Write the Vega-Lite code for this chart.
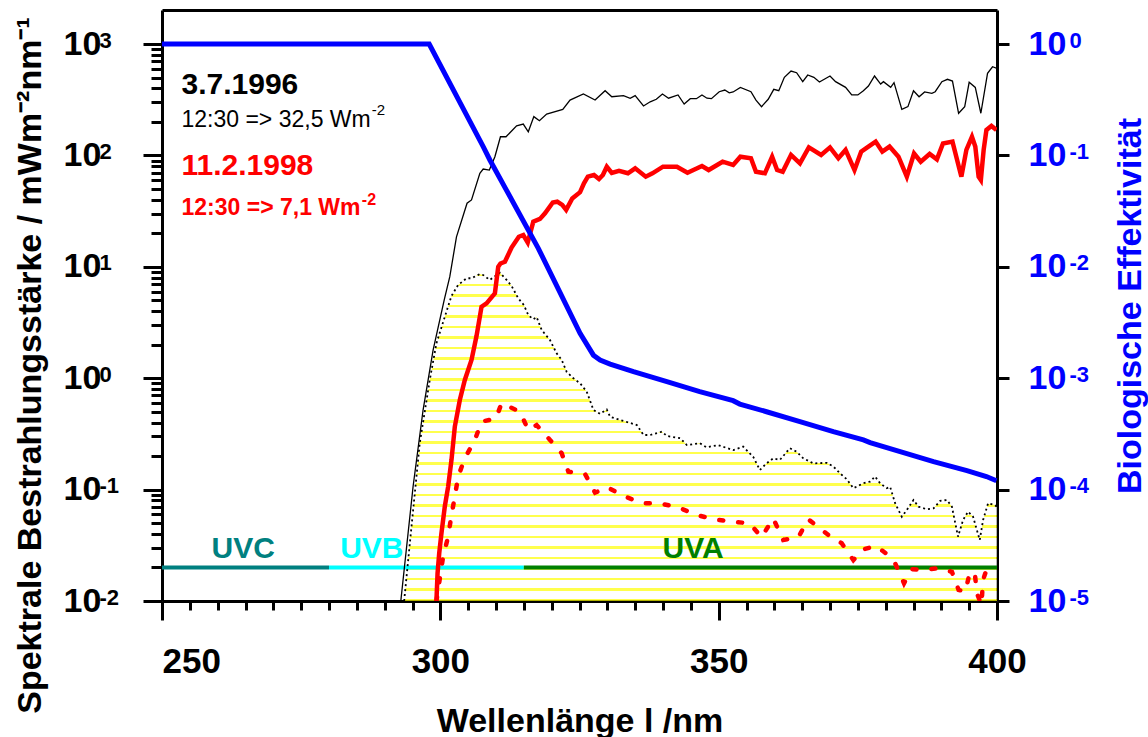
{
  "$schema": "https://vega.github.io/schema/vega-lite/v6.json",
  "width": 835,
  "height": 591,
  "autosize": {"type": "none"},
  "padding": {"left": 162, "top": 10, "right": 151, "bottom": 136},
  "background": "white",
  "config": {
    "font": "Liberation Sans",
    "view": {"stroke": null},
    "axis": {"grid": false, "labelFlush": false, "labelOverlap": false, "labelFont": "Liberation Sans", "titleFont": "Liberation Sans"}
  },
  "resolve": {"scale": {"y": "independent"}, "axis": {"x": "independent", "y": "independent"}},
  "datasets": {
    "black": [
      {"nm": 292.9, "v": 0.01}, {"nm": 295.1, "v": 0.106}, {"nm": 296.9, "v": 0.518}, {"nm": 298.7, "v": 1.79}, {"nm": 300.7, "v": 5.04}, {"nm": 301.7, "v": 8.15}, {"nm": 302.9, "v": 18.6}, {"nm": 304.8, "v": 37.2}, {"nm": 305.6, "v": 39.8}, {"nm": 307.1, "v": 69.1}, {"nm": 307.7, "v": 75.5}, {"nm": 308.8, "v": 73.9}, {"nm": 309.8, "v": 97.3}, {"nm": 310.8, "v": 147}, {"nm": 311.8, "v": 147}, {"nm": 313.7, "v": 184}, {"nm": 314.9, "v": 191}, {"nm": 315.8, "v": 163}, {"nm": 316.8, "v": 223}, {"nm": 317.8, "v": 205}, {"nm": 319.1, "v": 235}, {"nm": 322.0, "v": 259}, {"nm": 323.3, "v": 314}, {"nm": 325.7, "v": 356}, {"nm": 327.8, "v": 314}, {"nm": 329.6, "v": 381}, {"nm": 330.8, "v": 336}, {"nm": 332.9, "v": 344}, {"nm": 334.1, "v": 326}, {"nm": 335.0, "v": 344}, {"nm": 336.5, "v": 278}, {"nm": 337.7, "v": 303}, {"nm": 338.8, "v": 319}, {"nm": 339.9, "v": 356}, {"nm": 341.0, "v": 326}, {"nm": 342.7, "v": 349}, {"nm": 343.8, "v": 289}, {"nm": 344.9, "v": 323}, {"nm": 346.0, "v": 323}, {"nm": 347.0, "v": 349}, {"nm": 347.9, "v": 326}, {"nm": 348.7, "v": 323}, {"nm": 350.1, "v": 373}, {"nm": 351.1, "v": 386}, {"nm": 351.9, "v": 365}, {"nm": 352.6, "v": 371}, {"nm": 353.9, "v": 408}, {"nm": 355.8, "v": 373}, {"nm": 356.7, "v": 314}, {"nm": 357.7, "v": 274}, {"nm": 358.9, "v": 319}, {"nm": 359.9, "v": 392}, {"nm": 360.8, "v": 381}, {"nm": 361.8, "v": 502}, {"nm": 363.0, "v": 572}, {"nm": 364.0, "v": 552}, {"nm": 365.1, "v": 459}, {"nm": 366.0, "v": 527}, {"nm": 367.1, "v": 502}, {"nm": 368.1, "v": 456}, {"nm": 370.0, "v": 516}, {"nm": 371.0, "v": 459}, {"nm": 372.8, "v": 408}, {"nm": 373.9, "v": 349}, {"nm": 375.0, "v": 349}, {"nm": 376.0, "v": 381}, {"nm": 376.9, "v": 420}, {"nm": 378.0, "v": 516}, {"nm": 379.1, "v": 437}, {"nm": 379.6, "v": 459}, {"nm": 380.9, "v": 408}, {"nm": 381.5, "v": 450}, {"nm": 382.9, "v": 259}, {"nm": 384.0, "v": 274}, {"nm": 385.0, "v": 381}, {"nm": 386.0, "v": 336}, {"nm": 387.0, "v": 371}, {"nm": 388.3, "v": 361}, {"nm": 388.9, "v": 373}, {"nm": 390.1, "v": 459}, {"nm": 391.1, "v": 482}, {"nm": 392.0, "v": 465}, {"nm": 393.1, "v": 239}, {"nm": 394.2, "v": 274}, {"nm": 395.0, "v": 453}, {"nm": 396.1, "v": 408}, {"nm": 397.1, "v": 239}, {"nm": 398.3, "v": 546}, {"nm": 399.2, "v": 625}, {"nm": 400.0, "v": 605}
    ],
    "red": [
      {"nm": 299.3, "v": 0.01}, {"nm": 299.5, "v": 0.0177}, {"nm": 299.8, "v": 0.0268}, {"nm": 300.2, "v": 0.0406}, {"nm": 300.8, "v": 0.0703}, {"nm": 301.4, "v": 0.106}, {"nm": 302.0, "v": 0.184}, {"nm": 302.6, "v": 0.367}, {"nm": 303.5, "v": 0.637}, {"nm": 304.4, "v": 0.964}, {"nm": 305.6, "v": 1.46}, {"nm": 306.5, "v": 2.39}, {"nm": 307.4, "v": 4.38}, {"nm": 308.3, "v": 4.7}, {"nm": 309.8, "v": 5.78}, {"nm": 310.4, "v": 10.0}, {"nm": 310.8, "v": 10.7}, {"nm": 311.6, "v": 11.1}, {"nm": 312.8, "v": 14.9}, {"nm": 314.1, "v": 18.6}, {"nm": 314.9, "v": 19.3}, {"nm": 315.7, "v": 16.5}, {"nm": 316.7, "v": 25.4}, {"nm": 317.9, "v": 26.9}, {"nm": 318.8, "v": 30.2}, {"nm": 320.2, "v": 37.8}, {"nm": 321.0, "v": 38.4}, {"nm": 321.9, "v": 35.9}, {"nm": 322.6, "v": 32.4}, {"nm": 323.7, "v": 41.0}, {"nm": 325.1, "v": 46.8}, {"nm": 325.8, "v": 56.2}, {"nm": 326.5, "v": 64.4}, {"nm": 327.6, "v": 66.7}, {"nm": 328.5, "v": 61.4}, {"nm": 329.2, "v": 66.7}, {"nm": 329.9, "v": 79.2}, {"nm": 330.8, "v": 69.5}, {"nm": 332.1, "v": 72.7}, {"nm": 333.7, "v": 69.1}, {"nm": 335.0, "v": 76.6}, {"nm": 336.9, "v": 64.4}, {"nm": 338.1, "v": 69.1}, {"nm": 340.0, "v": 79.2}, {"nm": 342.5, "v": 79.2}, {"nm": 344.4, "v": 69.9}, {"nm": 347.0, "v": 80.3}, {"nm": 348.2, "v": 73.9}, {"nm": 350.7, "v": 87.8}, {"nm": 352.6, "v": 82.0}, {"nm": 353.9, "v": 97.3}, {"nm": 355.8, "v": 94.2}, {"nm": 356.7, "v": 71.4}, {"nm": 358.3, "v": 69.1}, {"nm": 359.6, "v": 97.3}, {"nm": 360.5, "v": 73.9}, {"nm": 361.5, "v": 71.4}, {"nm": 363.0, "v": 101}, {"nm": 364.6, "v": 84.9}, {"nm": 366.2, "v": 118}, {"nm": 368.4, "v": 101}, {"nm": 370.0, "v": 118}, {"nm": 371.5, "v": 94.2}, {"nm": 372.8, "v": 112}, {"nm": 374.4, "v": 73.9}, {"nm": 375.6, "v": 108}, {"nm": 376.9, "v": 120}, {"nm": 378.2, "v": 133}, {"nm": 379.4, "v": 108}, {"nm": 380.7, "v": 120}, {"nm": 382.3, "v": 97.3}, {"nm": 383.8, "v": 64.4}, {"nm": 385.1, "v": 104}, {"nm": 386.3, "v": 87.8}, {"nm": 387.9, "v": 103}, {"nm": 389.2, "v": 92.2}, {"nm": 390.3, "v": 128}, {"nm": 392.0, "v": 133}, {"nm": 393.6, "v": 64.4}, {"nm": 394.5, "v": 112}, {"nm": 395.5, "v": 147}, {"nm": 396.1, "v": 120}, {"nm": 396.7, "v": 64.4}, {"nm": 397.1, "v": 60.1}, {"nm": 397.6, "v": 112}, {"nm": 398.1, "v": 169}, {"nm": 399.0, "v": 184}, {"nm": 399.9, "v": 169}
    ],
    "dotted": [
      {"nm": 293.5, "v": 0.01}, {"nm": 296.3, "v": 0.261}, {"nm": 298.1, "v": 0.964}, {"nm": 299.3, "v": 2.06}, {"nm": 300.5, "v": 3.19}, {"nm": 302.0, "v": 5.47}, {"nm": 303.2, "v": 6.87}, {"nm": 304.7, "v": 7.89}, {"nm": 305.6, "v": 7.89}, {"nm": 307.1, "v": 8.61}, {"nm": 307.7, "v": 8.44}, {"nm": 308.9, "v": 7.62}, {"nm": 310.7, "v": 8.85}, {"nm": 311.9, "v": 7.62}, {"nm": 312.8, "v": 6.73}, {"nm": 314.0, "v": 5.21}, {"nm": 315.0, "v": 4.54}, {"nm": 315.8, "v": 3.69}, {"nm": 316.7, "v": 3.38}, {"nm": 317.3, "v": 3.54}, {"nm": 318.2, "v": 2.71}, {"nm": 319.7, "v": 2.2}, {"nm": 320.9, "v": 1.67}, {"nm": 321.8, "v": 1.46}, {"nm": 322.7, "v": 1.14}, {"nm": 323.9, "v": 1.0}, {"nm": 325.1, "v": 0.9}, {"nm": 326.3, "v": 0.757}, {"nm": 327.5, "v": 0.519}, {"nm": 328.7, "v": 0.478}, {"nm": 329.9, "v": 0.524}, {"nm": 330.5, "v": 0.451}, {"nm": 332.3, "v": 0.422}, {"nm": 335.3, "v": 0.38}, {"nm": 336.5, "v": 0.309}, {"nm": 337.7, "v": 0.309}, {"nm": 339.8, "v": 0.331}, {"nm": 340.7, "v": 0.303}, {"nm": 343.1, "v": 0.289}, {"nm": 344.3, "v": 0.251}, {"nm": 346.6, "v": 0.261}, {"nm": 347.8, "v": 0.24}, {"nm": 349.9, "v": 0.251}, {"nm": 352.6, "v": 0.226}, {"nm": 354.4, "v": 0.243}, {"nm": 356.2, "v": 0.197}, {"nm": 357.4, "v": 0.15}, {"nm": 358.6, "v": 0.172}, {"nm": 359.8, "v": 0.191}, {"nm": 361.0, "v": 0.185}, {"nm": 362.8, "v": 0.235}, {"nm": 364.0, "v": 0.219}, {"nm": 365.2, "v": 0.191}, {"nm": 367.0, "v": 0.172}, {"nm": 369.4, "v": 0.174}, {"nm": 370.6, "v": 0.161}, {"nm": 371.8, "v": 0.14}, {"nm": 373.0, "v": 0.124}, {"nm": 374.2, "v": 0.103}, {"nm": 376.0, "v": 0.114}, {"nm": 377.2, "v": 0.118}, {"nm": 378.1, "v": 0.131}, {"nm": 379.0, "v": 0.114}, {"nm": 380.2, "v": 0.103}, {"nm": 380.8, "v": 0.106}, {"nm": 381.7, "v": 0.0754}, {"nm": 382.9, "v": 0.0571}, {"nm": 383.8, "v": 0.0656}, {"nm": 385.0, "v": 0.0807}, {"nm": 385.9, "v": 0.0703}, {"nm": 387.4, "v": 0.0665}, {"nm": 388.6, "v": 0.0679}, {"nm": 389.8, "v": 0.0794}, {"nm": 391.0, "v": 0.0807}, {"nm": 391.9, "v": 0.0703}, {"nm": 393.0, "v": 0.0378}, {"nm": 393.9, "v": 0.0533}, {"nm": 394.8, "v": 0.0634}, {"nm": 395.7, "v": 0.0571}, {"nm": 396.9, "v": 0.0353}, {"nm": 397.5, "v": 0.0533}, {"nm": 398.4, "v": 0.0754}, {"nm": 399.6, "v": 0.0728}, {"nm": 400.0, "v": 0.0698}
    ],
    "reddash": [
      {"nm": 299.3, "v": 0.01}, {"nm": 300.5, "v": 0.025}, {"nm": 301.4, "v": 0.0378}, {"nm": 302.0, "v": 0.0592}, {"nm": 302.6, "v": 0.0863}, {"nm": 303.2, "v": 0.131}, {"nm": 304.4, "v": 0.191}, {"nm": 306.2, "v": 0.279}, {"nm": 307.4, "v": 0.407}, {"nm": 310.0, "v": 0.436}, {"nm": 311.0, "v": 0.596}, {"nm": 314.3, "v": 0.5}, {"nm": 315.8, "v": 0.343}, {"nm": 317.3, "v": 0.38}, {"nm": 319.7, "v": 0.279}, {"nm": 321.8, "v": 0.212}, {"nm": 323.0, "v": 0.145}, {"nm": 326.0, "v": 0.138}, {"nm": 327.8, "v": 0.0938}, {"nm": 330.0, "v": 0.105}, {"nm": 332.9, "v": 0.0877}, {"nm": 336.2, "v": 0.0754}, {"nm": 339.3, "v": 0.0754}, {"nm": 342.7, "v": 0.0693}, {"nm": 346.1, "v": 0.0592}, {"nm": 349.0, "v": 0.0541}, {"nm": 352.6, "v": 0.0515}, {"nm": 355.6, "v": 0.0497}, {"nm": 357.7, "v": 0.0373}, {"nm": 359.8, "v": 0.0552}, {"nm": 361.6, "v": 0.0353}, {"nm": 364.3, "v": 0.0373}, {"nm": 366.1, "v": 0.0541}, {"nm": 369.7, "v": 0.0391}, {"nm": 372.1, "v": 0.033}, {"nm": 374.2, "v": 0.0233}, {"nm": 376.0, "v": 0.0291}, {"nm": 378.3, "v": 0.0312}, {"nm": 380.2, "v": 0.0264}, {"nm": 381.7, "v": 0.0218}, {"nm": 383.3, "v": 0.0144}, {"nm": 384.7, "v": 0.0193}, {"nm": 386.8, "v": 0.019}, {"nm": 389.5, "v": 0.0197}, {"nm": 391.9, "v": 0.0183}, {"nm": 393.1, "v": 0.0126}, {"nm": 394.3, "v": 0.0121}, {"nm": 395.1, "v": 0.0179}, {"nm": 396.0, "v": 0.0179}, {"nm": 396.4, "v": 0.0117}, {"nm": 397.2, "v": 0.0092}, {"nm": 397.5, "v": 0.0155}, {"nm": 398.4, "v": 0.021}
    ],
    "blue": [
      {"nm": 250, "v": 1}, {"nm": 298.0, "v": 1}, {"nm": 307.7, "v": 0.12}, {"nm": 308.9, "v": 0.091}, {"nm": 317.6, "v": 0.01466}, {"nm": 325.1, "v": 0.00253}, {"nm": 327.5, "v": 0.00161}, {"nm": 328.7, "v": 0.001455}, {"nm": 330.5, "v": 0.00134}, {"nm": 334.7, "v": 0.001143}, {"nm": 340.7, "v": 0.000932}, {"nm": 346.6, "v": 0.000757}, {"nm": 352.6, "v": 0.000628}, {"nm": 353.8, "v": 0.000586}, {"nm": 358.6, "v": 0.0005}, {"nm": 364.6, "v": 0.000408}, {"nm": 370.6, "v": 0.000331}, {"nm": 376.0, "v": 0.000279}, {"nm": 377.2, "v": 0.000264}, {"nm": 382.6, "v": 0.000219}, {"nm": 388.6, "v": 0.000178}, {"nm": 394.6, "v": 0.000148}, {"nm": 398.1, "v": 0.000131}, {"nm": 399.9, "v": 0.00012}
    ],
    "bands": [
      {"band": "UVC", "start": 250, "end": 280, "v": 0.02},
      {"band": "UVB", "start": 280, "end": 315, "v": 0.02},
      {"band": "UVA", "start": 315, "end": 400, "v": 0.02}
    ],
    "bandLabels": [
      {"band": "UVC", "nm": 264.6, "v": 0.0243},
      {"band": "UVB", "nm": 287.7, "v": 0.0243},
      {"band": "UVA", "nm": 345.4, "v": 0.0243}
    ]
  },
  "layer": [
    {
      "data": {"name": "dotted"},
      "mark": {"type": "area", "fillOpacity": 0.7, "fill": {"gradient": "linear", "x1": 0, "y1": 0, "x2": 0, "y2": 1, "stops": [
        {"offset": 0, "color": "#ffffff"},
        {"offset": 0.0018, "color": "#ffffff"}, {"offset": 0.0018, "color": "#ffff00"}, {"offset": 0.0092, "color": "#ffff00"}, {"offset": 0.0092, "color": "#ffffff"},
        {"offset": 0.0338, "color": "#ffffff"}, {"offset": 0.0338, "color": "#ffff00"}, {"offset": 0.0412, "color": "#ffff00"}, {"offset": 0.0412, "color": "#ffffff"},
        {"offset": 0.0657, "color": "#ffffff"}, {"offset": 0.0657, "color": "#ffff00"}, {"offset": 0.0731, "color": "#ffff00"}, {"offset": 0.0731, "color": "#ffffff"},
        {"offset": 0.0977, "color": "#ffffff"}, {"offset": 0.0977, "color": "#ffff00"}, {"offset": 0.1051, "color": "#ffff00"}, {"offset": 0.1051, "color": "#ffffff"},
        {"offset": 0.1297, "color": "#ffffff"}, {"offset": 0.1297, "color": "#ffff00"}, {"offset": 0.1371, "color": "#ffff00"}, {"offset": 0.1371, "color": "#ffffff"},
        {"offset": 0.1617, "color": "#ffffff"}, {"offset": 0.1617, "color": "#ffff00"}, {"offset": 0.1691, "color": "#ffff00"}, {"offset": 0.1691, "color": "#ffffff"},
        {"offset": 0.1937, "color": "#ffffff"}, {"offset": 0.1937, "color": "#ffff00"}, {"offset": 0.2011, "color": "#ffff00"}, {"offset": 0.2011, "color": "#ffffff"},
        {"offset": 0.2257, "color": "#ffffff"}, {"offset": 0.2257, "color": "#ffff00"}, {"offset": 0.2331, "color": "#ffff00"}, {"offset": 0.2331, "color": "#ffffff"},
        {"offset": 0.2576, "color": "#ffffff"}, {"offset": 0.2576, "color": "#ffff00"}, {"offset": 0.265, "color": "#ffff00"}, {"offset": 0.265, "color": "#ffffff"},
        {"offset": 0.2896, "color": "#ffffff"}, {"offset": 0.2896, "color": "#ffff00"}, {"offset": 0.297, "color": "#ffff00"}, {"offset": 0.297, "color": "#ffffff"},
        {"offset": 0.3216, "color": "#ffffff"}, {"offset": 0.3216, "color": "#ffff00"}, {"offset": 0.329, "color": "#ffff00"}, {"offset": 0.329, "color": "#ffffff"},
        {"offset": 0.3536, "color": "#ffffff"}, {"offset": 0.3536, "color": "#ffff00"}, {"offset": 0.361, "color": "#ffff00"}, {"offset": 0.361, "color": "#ffffff"},
        {"offset": 0.3856, "color": "#ffffff"}, {"offset": 0.3856, "color": "#ffff00"}, {"offset": 0.393, "color": "#ffff00"}, {"offset": 0.393, "color": "#ffffff"},
        {"offset": 0.4176, "color": "#ffffff"}, {"offset": 0.4176, "color": "#ffff00"}, {"offset": 0.425, "color": "#ffff00"}, {"offset": 0.425, "color": "#ffffff"},
        {"offset": 0.4495, "color": "#ffffff"}, {"offset": 0.4495, "color": "#ffff00"}, {"offset": 0.4569, "color": "#ffff00"}, {"offset": 0.4569, "color": "#ffffff"},
        {"offset": 0.4815, "color": "#ffffff"}, {"offset": 0.4815, "color": "#ffff00"}, {"offset": 0.4889, "color": "#ffff00"}, {"offset": 0.4889, "color": "#ffffff"},
        {"offset": 0.5135, "color": "#ffffff"}, {"offset": 0.5135, "color": "#ffff00"}, {"offset": 0.5209, "color": "#ffff00"}, {"offset": 0.5209, "color": "#ffffff"},
        {"offset": 0.5455, "color": "#ffffff"}, {"offset": 0.5455, "color": "#ffff00"}, {"offset": 0.5529, "color": "#ffff00"}, {"offset": 0.5529, "color": "#ffffff"},
        {"offset": 0.5775, "color": "#ffffff"}, {"offset": 0.5775, "color": "#ffff00"}, {"offset": 0.5849, "color": "#ffff00"}, {"offset": 0.5849, "color": "#ffffff"},
        {"offset": 0.6095, "color": "#ffffff"}, {"offset": 0.6095, "color": "#ffff00"}, {"offset": 0.6169, "color": "#ffff00"}, {"offset": 0.6169, "color": "#ffffff"},
        {"offset": 0.6414, "color": "#ffffff"}, {"offset": 0.6414, "color": "#ffff00"}, {"offset": 0.6488, "color": "#ffff00"}, {"offset": 0.6488, "color": "#ffffff"},
        {"offset": 0.6734, "color": "#ffffff"}, {"offset": 0.6734, "color": "#ffff00"}, {"offset": 0.6808, "color": "#ffff00"}, {"offset": 0.6808, "color": "#ffffff"},
        {"offset": 0.7054, "color": "#ffffff"}, {"offset": 0.7054, "color": "#ffff00"}, {"offset": 0.7128, "color": "#ffff00"}, {"offset": 0.7128, "color": "#ffffff"},
        {"offset": 0.7374, "color": "#ffffff"}, {"offset": 0.7374, "color": "#ffff00"}, {"offset": 0.7448, "color": "#ffff00"}, {"offset": 0.7448, "color": "#ffffff"},
        {"offset": 0.7694, "color": "#ffffff"}, {"offset": 0.7694, "color": "#ffff00"}, {"offset": 0.7768, "color": "#ffff00"}, {"offset": 0.7768, "color": "#ffffff"},
        {"offset": 0.8014, "color": "#ffffff"}, {"offset": 0.8014, "color": "#ffff00"}, {"offset": 0.8088, "color": "#ffff00"}, {"offset": 0.8088, "color": "#ffffff"},
        {"offset": 0.8333, "color": "#ffffff"}, {"offset": 0.8333, "color": "#ffff00"}, {"offset": 0.8407, "color": "#ffff00"}, {"offset": 0.8407, "color": "#ffffff"},
        {"offset": 0.8653, "color": "#ffffff"}, {"offset": 0.8653, "color": "#ffff00"}, {"offset": 0.8727, "color": "#ffff00"}, {"offset": 0.8727, "color": "#ffffff"},
        {"offset": 0.8973, "color": "#ffffff"}, {"offset": 0.8973, "color": "#ffff00"}, {"offset": 0.9047, "color": "#ffff00"}, {"offset": 0.9047, "color": "#ffffff"},
        {"offset": 0.9293, "color": "#ffffff"}, {"offset": 0.9293, "color": "#ffff00"}, {"offset": 0.9367, "color": "#ffff00"}, {"offset": 0.9367, "color": "#ffffff"},
        {"offset": 0.9613, "color": "#ffffff"}, {"offset": 0.9613, "color": "#ffff00"}, {"offset": 0.9687, "color": "#ffff00"}, {"offset": 0.9687, "color": "#ffffff"},
        {"offset": 0.9933, "color": "#ffffff"}, {"offset": 0.9933, "color": "#ffff00"}, {"offset": 1, "color": "#ffff00"}
      ]}},
      "encoding": {
        "x": {"field": "nm", "type": "quantitative", "scale": {"domain": [250, 400], "nice": false, "zero": false},
          "axis": {"orient": "bottom", "values": [250, 255, 260, 265, 270, 275, 280, 285, 290, 295, 300, 305, 310, 315, 320, 325, 330, 335, 340, 345, 350, 355, 360, 365, 370, 375, 380, 385, 390, 395, 400], "format": "d", "labelExpr": "datum.value % 50 == 0 ? datum.label : ''", "ticks": true, "tickColor": "#000000", "tickSize": {"condition": {"test": "datum.value % 50 == 0", "value": 19}, "value": 9}, "tickWidth": 3, "domain": true, "domainColor": "#000000", "domainWidth": 3, "labelAlign": {"condition": {"test": "datum.value == 250", "value": "left"}, "value": "center"}, "labelFontSize": 35, "labelFontWeight": "bold", "labelColor": "black", "labelPadding": 24, "title": "Wellenlänge l /nm", "titleFontSize": 34, "titleFontWeight": "bold", "titleColor": "black", "titleX": 417.5, "titleY": 130, "titleAlign": "center", "titleBaseline": "alphabetic"}},
        "y": {"field": "v", "type": "quantitative", "scale": {"type": "log", "domain": [0.01, 2019.6], "nice": false},
          "axis": {"orient": "left", "values": [0.01, 0.02, 0.03, 0.04, 0.05, 0.06, 0.07, 0.08, 0.09, 0.1, 0.2, 0.3, 0.4, 0.5, 0.6, 0.7, 0.8, 0.9, 1, 2, 3, 4, 5, 6, 7, 8, 9, 10, 20, 30, 40, 50, 60, 70, 80, 90, 100, 200, 300, 400, 500, 600, 700, 800, 900, 1000], "labelExpr": "abs(log(datum.value) / LN10 - round(log(datum.value) / LN10)) < 0.001 ? '10' : ''", "ticks": true, "tickColor": "#000000", "tickSize": {"condition": {"test": "abs(log(datum.value) / LN10 - round(log(datum.value) / LN10)) < 0.001", "value": 19}, "value": 11}, "tickWidth": 3, "domain": true, "domainColor": "#000000", "domainWidth": 3, "labelAlign": "left", "labelBaseline": "middle", "labelPadding": 80, "labelFontSize": 34, "labelFontWeight": "bold", "labelColor": "black", "title": "Spektrale Bestrahlungsstärke / mWm⁻²nm⁻¹", "titleAngle": 270, "titleX": -122, "titleY": 355, "titleAlign": "center", "titleBaseline": "alphabetic", "titleFontSize": 34, "titleFontWeight": "bold", "titleColor": "black"}},
        "y2": {"datum": 0.01}
      }
    },
    {
      "data": {"name": "bands"},
      "mark": {"type": "rule", "strokeWidth": 4},
      "encoding": {
        "x": {"field": "start", "type": "quantitative", "scale": {"domain": [250, 400], "nice": false, "zero": false}, "axis": null},
        "x2": {"field": "end"},
        "y": {"field": "v", "type": "quantitative", "scale": {"type": "log", "domain": [0.01, 2019.6], "nice": false}, "axis": null},
        "color": {"field": "band", "type": "nominal", "scale": {"domain": ["UVC", "UVB", "UVA"], "range": ["#008080", "#00FFFF", "#008000"]}, "legend": null}
      }
    },
    {
      "data": {"name": "bandLabels"},
      "mark": {"type": "text", "fontSize": 30, "fontWeight": "bold", "align": "center", "baseline": "alphabetic"},
      "encoding": {
        "x": {"field": "nm", "type": "quantitative", "scale": {"domain": [250, 400], "nice": false, "zero": false}, "axis": null},
        "y": {"field": "v", "type": "quantitative", "scale": {"type": "log", "domain": [0.01, 2019.6], "nice": false},
          "axis": {"orient": "left", "values": [0.01, 0.1, 1, 10, 100, 1000], "labelExpr": "datum.value < 1 ? '-' + round(-log(datum.value) / LN10) : '' + round(log(datum.value) / LN10)", "ticks": false, "tickSize": 0, "domain": false, "labelAlign": "left", "labelBaseline": "alphabetic", "labelOffset": 3, "labelPadding": 63, "labelFontSize": 22, "labelFontWeight": "bold", "labelColor": "black", "title": null}},
        "text": {"field": "band"},
        "color": {"field": "band", "type": "nominal", "scale": {"domain": ["UVC", "UVB", "UVA"], "range": ["#008080", "#00FFFF", "#008000"]}, "legend": null}
      }
    },
    {
      "data": {"name": "dotted"},
      "mark": {"type": "line", "color": "black", "strokeWidth": 1.8, "strokeDash": [2, 3]},
      "encoding": {
        "x": {"field": "nm", "type": "quantitative", "scale": {"domain": [250, 400], "nice": false, "zero": false}, "axis": null},
        "y": {"field": "v", "type": "quantitative", "scale": {"type": "log", "domain": [0.01, 2019.6], "nice": false}, "axis": null}
      }
    },
    {
      "data": {"name": "black"},
      "mark": {"type": "line", "color": "black", "strokeWidth": 1.3, "clip": true},
      "encoding": {
        "x": {"field": "nm", "type": "quantitative", "scale": {"domain": [250, 400], "nice": false, "zero": false}, "axis": null},
        "y": {"field": "v", "type": "quantitative", "scale": {"type": "log", "domain": [0.01, 2019.6], "nice": false}, "axis": null}
      }
    },
    {
      "data": {"name": "reddash"},
      "mark": {"type": "line", "color": "#FF0000", "strokeWidth": 4.5, "strokeDash": [4, 15], "strokeCap": "round", "clip": true},
      "encoding": {
        "x": {"field": "nm", "type": "quantitative", "scale": {"domain": [250, 400], "nice": false, "zero": false}, "axis": null},
        "y": {"field": "v", "type": "quantitative", "scale": {"type": "log", "domain": [0.01, 2019.6], "nice": false}, "axis": null}
      }
    },
    {
      "data": {"name": "red"},
      "mark": {"type": "line", "color": "#FF0000", "strokeWidth": 4.5, "clip": true},
      "encoding": {
        "x": {"field": "nm", "type": "quantitative", "scale": {"domain": [250, 400], "nice": false, "zero": false}, "axis": null},
        "y": {"field": "v", "type": "quantitative", "scale": {"type": "log", "domain": [0.01, 2019.6], "nice": false}, "axis": null}
      }
    },
    {
      "data": {"name": "blue"},
      "mark": {"type": "line", "color": "#0000FF", "strokeWidth": 5},
      "encoding": {
        "x": {"field": "nm", "type": "quantitative", "scale": {"domain": [250, 400], "nice": false, "zero": false}, "axis": null},
        "y": {"field": "v", "type": "quantitative", "scale": {"type": "log", "domain": [0.00001, 2.0196], "nice": false},
          "axis": {"orient": "right", "values": [0.00001, 0.0001, 0.001, 0.01, 0.1, 1], "labelExpr": "'10'", "ticks": true, "tickColor": "#000000", "tickSize": 12, "tickWidth": 3, "domain": true, "domainColor": "#000000", "domainWidth": 3, "labelAlign": "left", "labelBaseline": "middle", "labelPadding": 19, "labelFontSize": 34, "labelFontWeight": "bold", "labelColor": "#0000FF", "title": "Biologische Effektivität", "titleAngle": 270, "titleX": 143, "titleY": 295.5, "titleAlign": "center", "titleBaseline": "alphabetic", "titleFontSize": 34, "titleFontWeight": "bold", "titleColor": "#0000FF"}}
      }
    },
    {
      "data": {"name": "blue"},
      "mark": {"type": "line", "strokeOpacity": 0},
      "encoding": {
        "x": {"field": "nm", "type": "quantitative", "scale": {"domain": [250, 400], "nice": false, "zero": false},
          "axis": {"orient": "top", "values": [250, 400], "ticks": false, "labels": false, "domain": true, "domainColor": "#000000", "domainWidth": 3, "title": null}},
        "y": {"field": "v", "type": "quantitative", "scale": {"type": "log", "domain": [0.00001, 2.0196], "nice": false},
          "axis": {"orient": "right", "values": [0.00001, 0.0001, 0.001, 0.01, 0.1, 1], "labelExpr": "datum.value < 1 ? '-' + round(-log(datum.value) / LN10) : '' + round(log(datum.value) / LN10)", "ticks": false, "tickSize": 0, "domain": false, "labelAlign": "left", "labelBaseline": "alphabetic", "labelOffset": 3, "labelPadding": 72, "labelFontSize": 22, "labelFontWeight": "bold", "labelColor": "#0000FF", "title": null}}
      }
    },
    {
      "data": {"values": [{"nm": 253.5, "v": 356, "label": "3.7.1996"}]},
      "mark": {"type": "text", "fontSize": 30, "fontWeight": "bold", "color": "black", "align": "left", "baseline": "alphabetic"},
      "encoding": {
        "x": {"field": "nm", "type": "quantitative", "scale": {"domain": [250, 400], "nice": false, "zero": false}, "axis": null},
        "y": {"field": "v", "type": "quantitative", "scale": {"type": "log", "domain": [0.01, 2019.6], "nice": false}, "axis": null},
        "text": {"field": "label"}
      }
    },
    {
      "data": {"values": [{"nm": 253.5, "v": 181, "label": "12:30 => 32,5 Wm"}]},
      "mark": {"type": "text", "fontSize": 23, "fontWeight": "normal", "color": "black", "align": "left", "baseline": "alphabetic"},
      "encoding": {
        "x": {"field": "nm", "type": "quantitative", "scale": {"domain": [250, 400], "nice": false, "zero": false}, "axis": null},
        "y": {"field": "v", "type": "quantitative", "scale": {"type": "log", "domain": [0.01, 2019.6], "nice": false}, "axis": null},
        "text": {"field": "label"}
      }
    },
    {
      "data": {"values": [{"nm": 287.7, "v": 230.5, "label": "-2"}]},
      "mark": {"type": "text", "fontSize": 15, "fontWeight": "normal", "color": "black", "align": "left", "baseline": "alphabetic"},
      "encoding": {
        "x": {"field": "nm", "type": "quantitative", "scale": {"domain": [250, 400], "nice": false, "zero": false}, "axis": null},
        "y": {"field": "v", "type": "quantitative", "scale": {"type": "log", "domain": [0.01, 2019.6], "nice": false}, "axis": null},
        "text": {"field": "label"}
      }
    },
    {
      "data": {"values": [{"nm": 253.5, "v": 66.7, "label": "11.2.1998"}]},
      "mark": {"type": "text", "fontSize": 30, "fontWeight": "bold", "color": "#FF0000", "align": "left", "baseline": "alphabetic"},
      "encoding": {
        "x": {"field": "nm", "type": "quantitative", "scale": {"domain": [250, 400], "nice": false, "zero": false}, "axis": null},
        "y": {"field": "v", "type": "quantitative", "scale": {"type": "log", "domain": [0.01, 2019.6], "nice": false}, "axis": null},
        "text": {"field": "label"}
      }
    },
    {
      "data": {"values": [{"nm": 253.5, "v": 29.2, "label": "12:30 => 7,1 Wm"}]},
      "mark": {"type": "text", "fontSize": 23, "fontWeight": "bold", "color": "#FF0000", "align": "left", "baseline": "alphabetic"},
      "encoding": {
        "x": {"field": "nm", "type": "quantitative", "scale": {"domain": [250, 400], "nice": false, "zero": false}, "axis": null},
        "y": {"field": "v", "type": "quantitative", "scale": {"type": "log", "domain": [0.01, 2019.6], "nice": false}, "axis": null},
        "text": {"field": "label"}
      }
    },
    {
      "data": {"values": [{"nm": 285.9, "v": 35.9, "label": "-2"}]},
      "mark": {"type": "text", "fontSize": 16, "fontWeight": "bold", "color": "#FF0000", "align": "left", "baseline": "alphabetic"},
      "encoding": {
        "x": {"field": "nm", "type": "quantitative", "scale": {"domain": [250, 400], "nice": false, "zero": false}, "axis": null},
        "y": {"field": "v", "type": "quantitative", "scale": {"type": "log", "domain": [0.01, 2019.6], "nice": false}, "axis": null},
        "text": {"field": "label"}
      }
    }
  ]
}
